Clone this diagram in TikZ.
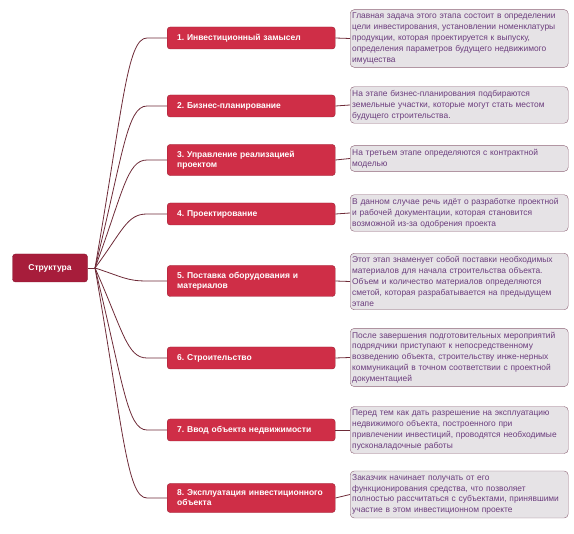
\documentclass[tikz,border=0pt]{standalone}
\usepackage{fontspec}
\setmainfont{Liberation Sans}
\usetikzlibrary{positioning, calc}
\frenchspacing

\definecolor{stagered}{HTML}{CF2E47}
\definecolor{rootred}{HTML}{A71D3B}
\definecolor{linkbrown}{HTML}{6E2B38}
\definecolor{descfill}{HTML}{E6E3E6}
\definecolor{descline}{HTML}{8E6477}
\definecolor{desctext}{HTML}{6B3D7D}

\tikzset{
  rootbox/.style={draw=rootred!80!black, fill=rootred, text=white, rounded corners=3,
    font=\fontsize{8.5}{10}\selectfont\bfseries, minimum width=75, minimum height=28, inner sep=0},
  stagebox/.style={draw=stagered!75!black, fill=stagered, text=white, rounded corners=3,
    font=\fontsize{8.5}{10}\selectfont\bfseries, text width=148, align=left,
    inner xsep=10, inner ysep=6.5, minimum height=22, anchor=west},
  descbox/.style={draw=descline, fill=descfill, text=desctext, rounded corners=4,
    font=\fontsize{8.4}{10.8}\selectfont, text width=214, align=left,
    inner xsep=2, inner ysep=3.5, anchor=west},
  link/.style={draw=linkbrown, line width=0.8}
}

\begin{document}
\begin{tikzpicture}[x=1pt, y=-1pt]
  \useasboundingbox (0,0) rectangle (574,534);

  % Root
  \node[rootbox] (root) at (50,268) {Структура};
  \coordinate (j) at (95,268);

  % Stages
  \node[stagebox] (s1) at (167,38) {1. Инвестиционный замысел};
  \node[stagebox] (s2) at (167,106) {2. Бизнес-планирование};
  \node[stagebox] (s3) at (167,160) {3. Управление реализацией\\проектом};
  \node[stagebox] (s4) at (167,214) {4. Проектирование};
  \node[stagebox] (s5) at (167,281) {5. Поставка оборудования и\\материалов};
  \node[stagebox] (s6) at (167,358) {6. Строительство};
  \node[stagebox] (s7) at (167,430) {7. Ввод объекта недвижимости};
  \node[stagebox] (s8) at (167,498) {8. Эксплуатация инвестиционного\\объекта};

  % Descriptions
  \node[descbox] (d1) at (350,38.5) {Главная задача этого этапа состоит в определении\\
    цели инвестирования, установлении номенклатуры\\продукции, которая проектируется к выпуску,\\
    определения параметров будущего недвижимого\\имущества};
  \node[descbox] (d2) at (350,105) {На этапе бизнес-планирования подбираются\\
    земельные участки, которые могут стать местом\\будущего строительства.};
  \node[descbox] (d3) at (350,158.5) {На третьем этапе определяются с контрактной\\моделью};
  \node[descbox] (d4) at (350,213) {В данном случае речь идёт о разработке проектной\\
    и рабочей документации, которая становится\\возможной из-за одобрения проекта};
  \node[descbox] (d5) at (350,281.5) {Этот этап знаменует собой поставки необходимых\\
    материалов для начала строительства объекта.\\Объем и количество материалов определяются\\
    сметой, которая разрабатывается на предыдущем\\этапе};
  \node[descbox] (d6) at (350,357.5) {После завершения подготовительных мероприятий\\
    подрядчики приступают к непосредственному\\возведению объекта, строительству инже-нерных\\
    коммуникаций в точном соответствии с проектной\\документацией};
  \node[descbox] (d7) at (350,430) {Перед тем как дать разрешение на эксплуатацию\\
    недвижимого объекта, построенного при\\привлечении инвестиций, проводятся необходимые\\
    пусконаладочные работы};
  \node[descbox] (d8) at (350,494.5) {Заказчик начинает получать от его\\
    функционирования средства, что позволяет\\полностью рассчитаться с субъектами, принявшими\\
    участие в этом инвестиционном проекте};

  % Connectors
  \draw[link] (root.east) -- (j);
  \foreach \i in {1,...,8}{
    \draw[link] (j) .. controls ($(j)!0.7!(j |- s\i.west) + (28,0)$) and ($(s\i.west) + (-40,0)$)
      .. ($(s\i.west) + (-20,0)$) -- (s\i.west);
    \draw[link] (s\i.east) -- (d\i.west);
  }
\end{tikzpicture}
\end{document}
